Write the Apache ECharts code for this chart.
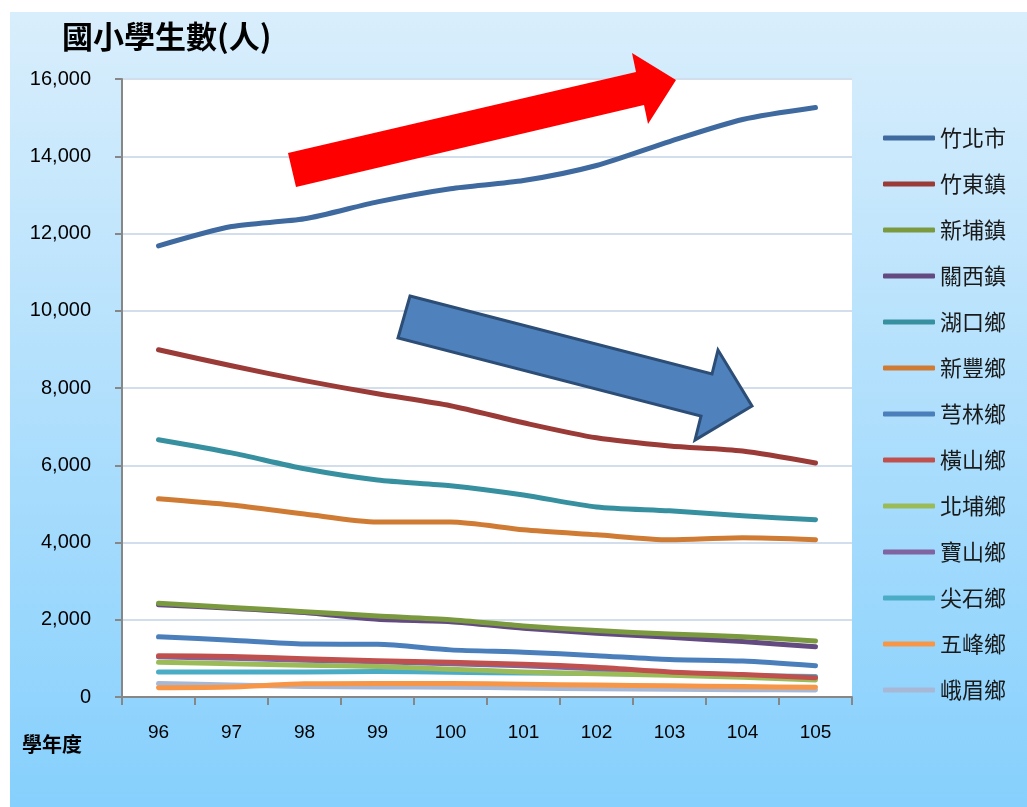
<!DOCTYPE html>
<html>
<head>
<meta charset="utf-8">
<script src="https://cdn.jsdelivr.net/npm/echarts@6/dist/echarts.min.js"></script>
<style>
html,body{margin:0;padding:0;background:#fff;}
#chart{width:1027px;height:807px;}
</style>
</head>
<body>
<div id="chart"></div>
<script>
const years = ['96','97','98','99','100','101','102','103','104','105'];
const yTicks = [0, 2000, 4000, 6000, 8000, 10000, 12000, 14000, 16000];

const zhubei   = [11680, 12180, 12380, 12820, 13160, 13370, 13760, 14380, 14950, 15260];
const zhudong  = [8990, 8575, 8190, 7850, 7540, 7100, 6710, 6500, 6370, 6060];
const xinpu    = [2430, 2320, 2210, 2100, 2000, 1840, 1720, 1630, 1560, 1450];
const guanxi   = [2390, 2300, 2185, 2010, 1950, 1780, 1650, 1545, 1435, 1300];
const hukou    = [6660, 6320, 5910, 5620, 5470, 5230, 4920, 4820, 4690, 4590];
const xinfeng  = [5130, 4970, 4740, 4530, 4530, 4330, 4200, 4070, 4120, 4070];
const qionglin = [1560, 1470, 1370, 1365, 1220, 1160, 1070, 970, 930, 810];
const hengshan = [1070, 1050, 990, 940, 900, 850, 770, 650, 580, 500];
const beipu    = [900, 860, 820, 790, 720, 650, 600, 560, 510, 440];
const baoshan  = [1040, 1000, 950, 910, 860, 810, 730, 630, 560, 480];
const jianshi  = [650, 650, 650, 660, 640, 620, 610, 590, 560, 530];
const wufeng   = [240, 260, 340, 350, 350, 330, 310, 290, 270, 250];
const emei     = [350, 310, 270, 260, 255, 230, 215, 200, 190, 180];

const seriesNames = ['竹北市','竹東鎮','新埔鎮','關西鎮','湖口鄉','新豐鄉','芎林鄉','橫山鄉','北埔鄉','寶山鄉','尖石鄉','五峰鄉','峨眉鄉'];
const seriesData = [zhubei, zhudong, xinpu, guanxi, hukou, xinfeng, qionglin, hengshan, beipu, baoshan, jianshi, wufeng, emei];
const colors = ['#3f6aa0','#9b3b37','#7b9a3f','#634b81','#37909f','#d07b34','#4a7fbb','#c0504d','#9bbb59','#8064a2','#4bacc6','#f79646','#a7b8d6'];

const cjk = '"Noto Sans CJK TC", "Noto Sans", sans-serif';
const num = '"Liberation Sans", "Noto Sans", sans-serif';

const chart = echarts.init(document.getElementById('chart'));

const series = seriesNames.map((n, i) => ({
  name: n,
  type: 'line',
  data: seriesData[i],
  showSymbol: false,
  symbol: 'none',
  smooth: 0.25,
  z: 2 + (seriesNames.length - i) * 0.01,
  lineStyle: { width: 5, color: colors[i], cap: 'round', join: 'round' },
  itemStyle: { color: colors[i] },
  emphasis: { disabled: true }
}));

const option = {
  animation: false,
  backgroundColor: '#ffffff',
  color: colors,
  grid: {
    left: 122, right: 175, top: 79, bottom: 110,
    show: true, backgroundColor: '#ffffff', borderWidth: 0,
    containLabel: false
  },
  xAxis: {
    type: 'category',
    data: years,
    boundaryGap: true,
    axisLine: { lineStyle: { color: '#878787', width: 2 } },
    axisTick: { show: true, length: 8, alignWithLabel: false, lineStyle: { color: '#878787', width: 2 } },
    axisLabel: { color: '#000', fontSize: 19, fontFamily: num, margin: 26 },
    splitLine: { show: false }
  },
  yAxis: {
    type: 'value',
    min: yTicks[0],
    max: yTicks[yTicks.length - 1],
    interval: 2000,
    axisLine: { show: true, lineStyle: { color: '#878787', width: 2 } },
    axisTick: { show: true, length: 7, lineStyle: { color: '#878787', width: 2 } },
    axisLabel: {
      color: '#000', fontSize: 20, fontFamily: num, margin: 31,
      formatter: v => v.toLocaleString('en-US')
    },
    splitLine: { show: true, lineStyle: { color: '#d3deec', width: 2 } }
  },
  legend: {
    orient: 'vertical',
    left: 878,
    top: 122,
    itemWidth: 52,
    itemHeight: 5,
    itemGap: 24,
    icon: 'roundRect',
    selectedMode: false,
    textStyle: { fontSize: 22, color: '#1a1a1a', fontFamily: cjk },
    data: seriesNames
  },
  graphic: [
    {
      type: 'rect', z: -100, silent: true,
      shape: { x: 10, y: 12, width: 1017, height: 795 },
      style: {
        fill: new echarts.graphic.LinearGradient(0, 0, 0, 1, [
          { offset: 0, color: '#d9eefc' },
          { offset: 1, color: '#86d0fd' }
        ])
      }
    },
    {
      type: 'text', left: 62, top: 21, z: 10,
      style: { text: '國小學生數(人)', font: 'bold 31px ' + cjk, fill: '#000' }
    },
    {
      type: 'text', left: 22, top: 734, z: 10,
      style: { text: '學年度', font: 'bold 20px ' + cjk, fill: '#000' }
    },
    {
      type: 'polygon', z: 20, silent: true,
      shape: { points: [[288,153],[636,72],[632,53],[676,80],[648,124],[644,105],[296,187]] },
      style: { fill: '#ff0000', stroke: 'none' }
    },
    {
      type: 'polygon', z: 20, silent: true,
      shape: { points: [[410,296],[712,374],[718,350],[752,406],[695,440],[701,416],[398,338]] },
      style: { fill: '#4f81bd', stroke: '#2c4d75', lineWidth: 3, lineJoin: 'miter' }
    }
  ],
  series: series
};

chart.setOption(option);
</script>
</body>
</html>
